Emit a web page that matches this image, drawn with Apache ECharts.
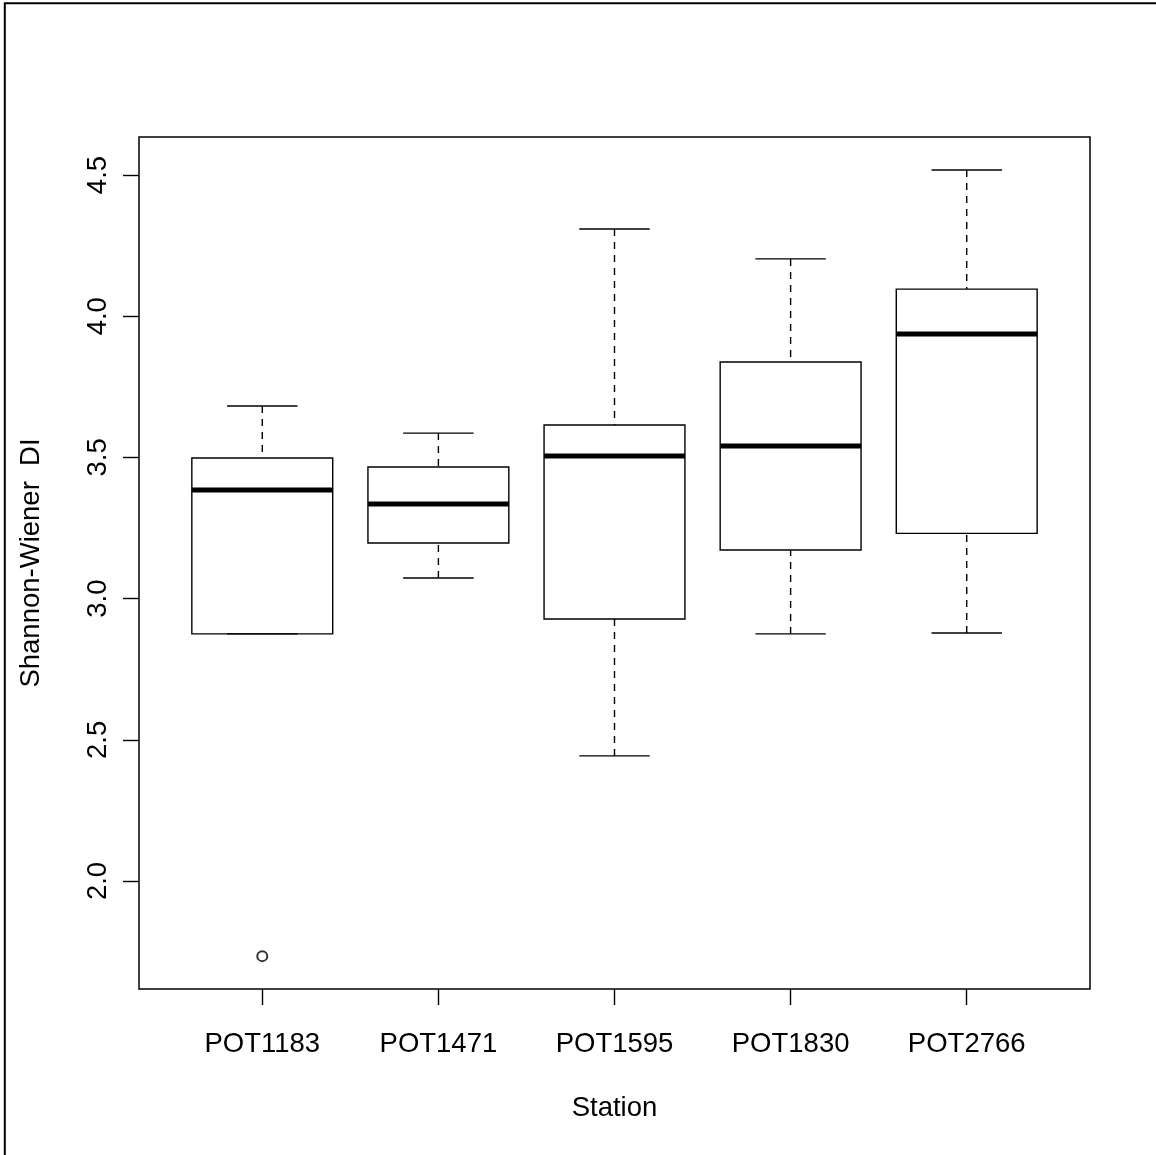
<!DOCTYPE html>
<html><head><meta charset="utf-8">
<script src="https://cdn.jsdelivr.net/npm/echarts@6/dist/echarts.min.js"></script>
<style>html,body{margin:0;padding:0;background:#fff}#c{width:1156px;height:1155px}</style>
</head><body><div id="c"></div>
<script>
const stations = ['POT1183', 'POT1471', 'POT1595', 'POT1830', 'POT2766'];
const whiskerLow  = [2.875, 3.073, 2.443, 2.875, 2.878];
const q1          = [2.875, 3.197, 2.928, 3.172, 3.231];
const median      = [3.385, 3.335, 3.505, 3.540, 3.937];
const q3          = [3.498, 3.466, 3.615, 3.838, 4.096];
const whiskerHigh = [3.682, 3.586, 4.309, 4.203, 4.518];
const outlierStation = [1];
const outlierValue = [1.734];
const yTicks = [2.0, 2.5, 3.0, 3.5, 4.0, 4.5];
const xTicks = [1, 2, 3, 4, 5];
const yTitle = 'Shannon-Wiener  DI';
const xTitle = 'Station';

const FONT = '"Liberation Sans", Arial, sans-serif';
const FS = 27.5;

const boxData = stations.map((s, i) => [i + 1, whiskerLow[i], q1[i], median[i], q3[i], whiskerHigh[i]]);
const outData = outlierStation.map((s, i) => [s, outlierValue[i]]);

function renderItem(params, api) {
  const x = api.value(0);
  const pLo = api.coord([x, api.value(1)]);
  const pA = api.coord([x, api.value(2)]);
  const pM = api.coord([x, api.value(3)]);
  const pB = api.coord([x, api.value(4)]);
  const pHi = api.coord([x, api.value(5)]);
  const half = api.size([0.4, 0])[0];
  const cap = api.size([0.2, 0])[0];
  const cx = pA[0];
  const solid = { stroke: '#000', lineWidth: 1.4 };
  const dashed = { stroke: '#000', lineWidth: 1.4, lineDash: [7, 6] };
  const line = (x1, y1, x2, y2, style) => ({ type: 'line', shape: { x1, y1, x2, y2 }, style });
  return {
    type: 'group',
    children: [
      line(cx, pHi[1], cx, pB[1], dashed),
      line(cx, pLo[1], cx, pA[1], dashed),
      line(cx - cap, pHi[1], cx + cap, pHi[1], solid),
      line(cx - cap, pLo[1], cx + cap, pLo[1], solid),
      { type: 'rect', shape: { x: cx - half, y: pB[1], width: 2 * half, height: pA[1] - pB[1] },
        style: { fill: 'rgba(0,0,0,0)', stroke: '#000', lineWidth: 1.4 } },
      line(cx - half, pM[1], cx + half, pM[1], { stroke: '#000', lineWidth: 5 })
    ]
  };
}

const chart = echarts.init(document.getElementById('c'), null, { renderer: 'canvas' });
chart.setOption({
  backgroundColor: '#fff',
  animation: false,
  grid: { left: 139, top: 137, right: 66, bottom: 166, show: true, borderColor: '#000', borderWidth: 1.5, backgroundColor: 'rgba(0,0,0,0)' },
  xAxis: {
    type: 'value', min: 0.3, max: 5.7,
    axisLine: { show: false, onZero: false },
    splitLine: { show: false },
    axisTick: { show: true, customValues: xTicks, length: 16, lineStyle: { color: '#000', width: 1.4 } },
    axisLabel: { customValues: xTicks, formatter: v => stations[Math.round(v) - 1], color: '#000', fontSize: FS, fontFamily: FONT, margin: 41 }
  },
  yAxis: {
    type: 'value', min: 1.6176, max: 4.6346,
    axisLine: { show: false, onZero: false },
    splitLine: { show: false },
    axisTick: { show: true, customValues: yTicks, length: 16, lineStyle: { color: '#000', width: 1.4 } },
    axisLabel: { customValues: yTicks, rotate: 90, formatter: v => v.toFixed(1), color: '#000', fontSize: FS, fontFamily: FONT, margin: 27 }
  },
  graphic: [
    { type: 'rect', shape: { x: 4.8, y: 3.2, width: 1300, height: 1300 }, style: { fill: 'none', stroke: '#000', lineWidth: 2 }, silent: true },
    { type: 'text', x: 614.5, y: 1108, style: { text: xTitle, fontSize: FS, fontFamily: FONT, fill: '#000', align: 'center', verticalAlign: 'middle' } },
    { type: 'text', x: 31, y: 563, rotation: Math.PI / 2, style: { text: yTitle, fontSize: FS, fontFamily: FONT, fill: '#000', align: 'center', verticalAlign: 'middle' } }
  ],
  series: [
    { type: 'custom', renderItem, data: boxData, encode: { x: 0, y: [1, 2, 3, 4, 5] }, clip: false },
    { type: 'scatter', data: outData, symbol: 'emptyCircle', symbolSize: 10, itemStyle: { color: '#000', borderWidth: 1.6 } }
  ]
});
</script></body></html>
